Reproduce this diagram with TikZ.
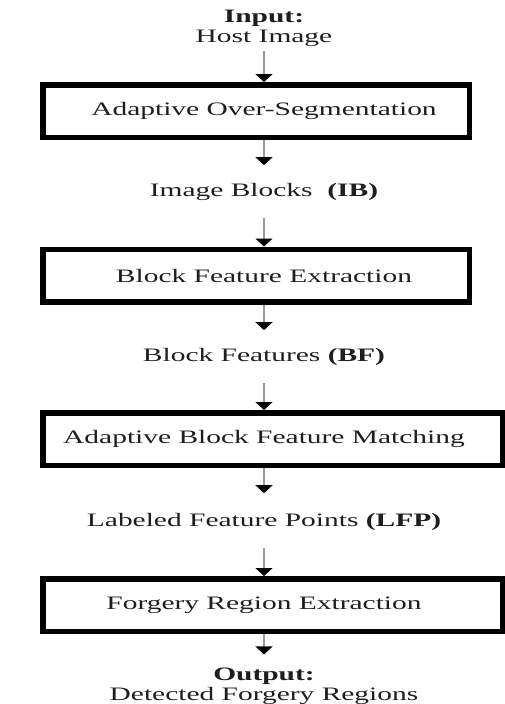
\documentclass[tikz,border=0pt]{standalone}
\usepackage{fontspec}
\setmainfont{Liberation Serif}[FakeStretch=1.55]
\usetikzlibrary{arrows.meta}
\definecolor{ink}{HTML}{1E1E1E}
\definecolor{stem}{HTML}{9A9A9A}
\begin{document}
\begin{tikzpicture}[x=1pt,y=-1pt,
  every node/.style={font=\fontsize{19}{20}\selectfont, text=ink, inner sep=0pt},
  label/.style={align=center},
  stage/.style={draw=black, line width=5.5pt, fill=white, minimum height=52.5pt},
  narrow/.style={stage, minimum width=426.5pt},
  wide/.style={stage, minimum width=459.5pt},
  flow/.style={draw=stem, line width=1.1pt,
    -{Triangle[width=17pt,length=8pt,color=black,fill=black]}}
]
\useasboundingbox (0,0) rectangle (504,704);

% data items (centred on the flow axis) and process stages
\node[label] (in) at (264,28) {\textbf{Input:}\\Host Image};
\node[narrow] (s1) at (256,111) {};
\node (t1) at (264,111) {Adaptive Over-Segmentation};
\node (ib) at (264,192) {Image Blocks\ \ \textbf{(IB)}};
\node[narrow] (s2) at (256,275.5) {};
\node (t2) at (264,275.5) {Block Feature Extraction};
\node (bf) at (264,357) {Block Features \textbf{(BF)}};
\node[wide] (s3) at (272.5,439) {};
\node (t3) at (264,439) {Adaptive Block Feature Matching};
\node (lfp) at (264,522) {Labeled Feature Points \textbf{(LFP)}};
\node[wide] (s4) at (272.5,605) {};
\node (t4) at (264,605) {Forgery Region Extraction};
\node[label] (out) at (264,686) {\textbf{Output:}\\Detected Forgery Regions};

% connectors along the flow axis
\draw[flow] ([yshift=-5pt]in.south) -- (in.south |- s1.north);
\draw[flow] (t1 |- s1.south) -- ([yshift=18pt]ib.north);
\draw[flow] ([yshift=-17pt]ib.south) -- (ib.south |- s2.north);
\draw[flow] (t2 |- s2.south) -- ([yshift=18pt]bf.north);
\draw[flow] ([yshift=-17pt]bf.south) -- (bf.south |- s3.north);
\draw[flow] (t3 |- s3.south) -- ([yshift=20pt]lfp.north);
\draw[flow] ([yshift=-17pt]lfp.south) -- (lfp.south |- s4.north);
\draw[flow] (t4 |- s4.south) -- ([yshift=13pt]out.north);
\end{tikzpicture}
\end{document}
